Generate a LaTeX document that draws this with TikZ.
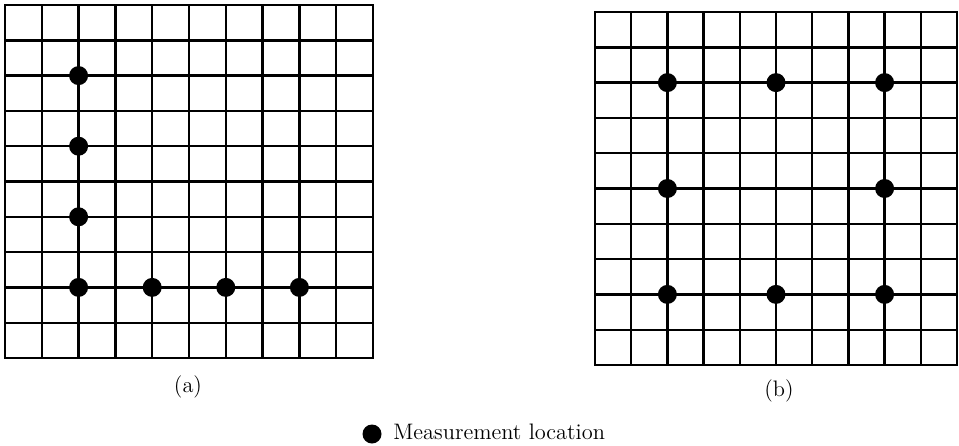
\documentclass[tikz,border=0pt]{standalone}
\usepackage{tikz}

\tikzset{
  gridline/.style={line width=1.2pt, line cap=rect},
  meas/.style={circle, fill=black, inner sep=0pt, minimum size=9.5pt},
  caption/.style={inner sep=0pt, font=\fontsize{11.2}{13}\selectfont},
}

\begin{document}
\begin{tikzpicture}[x=0.5pt, y=-0.5pt]
  \useasboundingbox (0,0) rectangle (959,445);
  \foreach \i in {0,...,10} {
    \draw[gridline] ({5+36.8*\i},5) -- ({5+36.8*\i},358);
    \draw[gridline] (5,{5+35.3*\i}) -- (373,{5+35.3*\i});
    \draw[gridline] ({595+36.2*\i},12) -- ({595+36.2*\i},365);
    \draw[gridline] (595,{12+35.3*\i}) -- (957,{12+35.3*\i});
  }
  \foreach \c/\r [count=\k] in {2/2,2/4,2/6,2/8,4/8,6/8,8/8}
    \node[meas] (a\k) at ({5+36.8*\c},{5+35.3*\r}) {};
  \foreach \c/\r [count=\k] in {2/2,5/2,8/2,2/5,8/5,2/8,5/8,8/8}
    \node[meas] (b\k) at ({595+36.2*\c},{12+35.3*\r}) {};
  \node[caption] (capa) at (188,387) {(a)};
  \node[caption] (capb) at (779,391) {(b)};
  \node[meas] (key) at (372,434) {};
  \node[caption, anchor=base west] (keytext) at (393,439) {Measurement location};
\end{tikzpicture}
\end{document}
